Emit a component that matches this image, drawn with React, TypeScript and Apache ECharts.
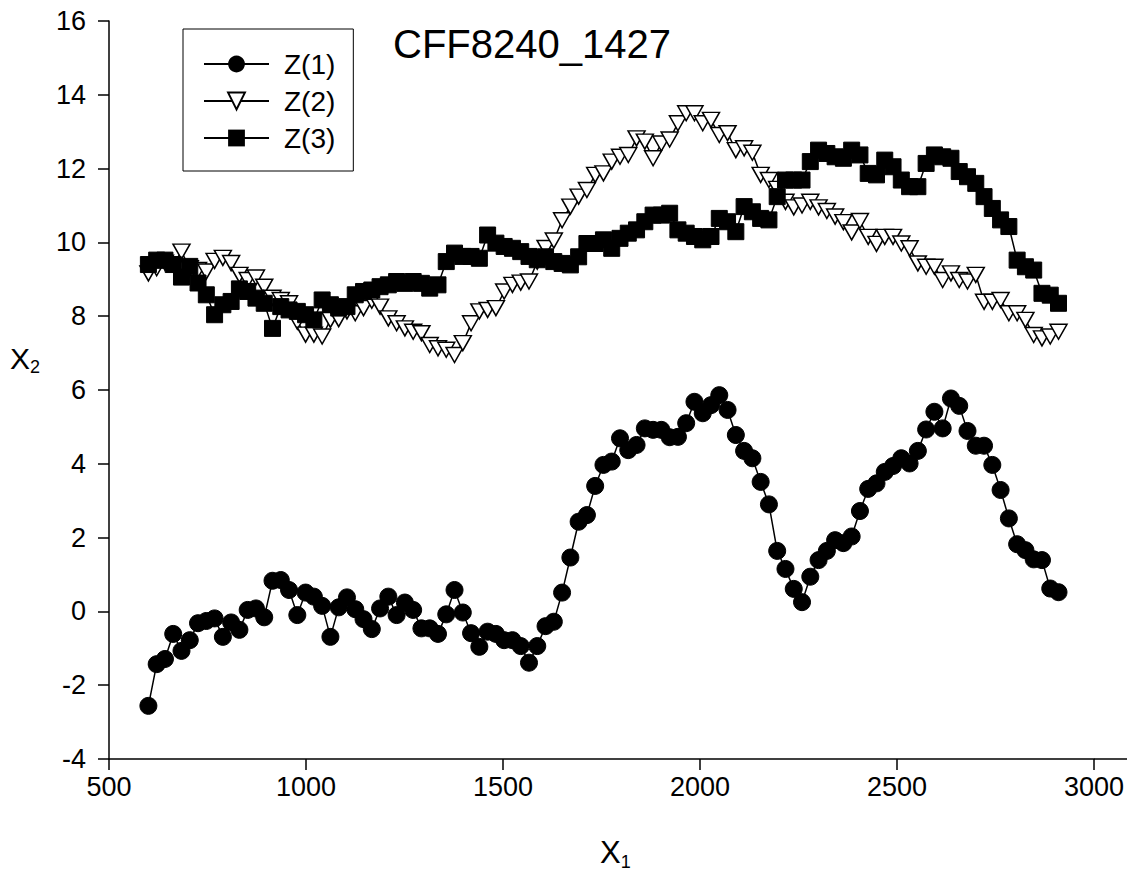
import React, { useEffect, useRef } from "react";
import * as echarts from "echarts";

const X1 = [
  600, 621, 642, 663, 684, 705, 726, 747, 768, 789,
  810, 831, 852, 873, 894, 915, 936, 957, 978, 999,
  1020, 1041, 1062, 1083, 1104, 1125, 1146, 1167, 1188, 1209,
  1230, 1251, 1272, 1293, 1314, 1335, 1356, 1377, 1398, 1419,
  1440, 1461, 1482, 1503, 1524, 1545, 1566, 1587, 1608, 1629,
  1650, 1671, 1692, 1713, 1734, 1755, 1776, 1797, 1818, 1839,
  1860, 1881, 1902, 1923, 1944, 1965, 1986, 2007, 2028, 2049,
  2070, 2091, 2112, 2133, 2154, 2175, 2196, 2217, 2238, 2259,
  2280, 2301, 2322, 2343, 2364, 2385, 2406, 2427, 2448, 2469,
  2490, 2511, 2532, 2553, 2574, 2595, 2616, 2637, 2658, 2679,
  2700, 2721, 2742, 2763, 2784, 2805, 2826, 2847, 2868, 2889,
  2910,
];

const Z1 = [
  -2.56, -1.43, -1.29, -0.61, -1.07, -0.78, -0.32, -0.26, -0.19, -0.69,
  -0.3, -0.5, 0.04, 0.08, -0.16, 0.83, 0.85, 0.58, -0.1, 0.51,
  0.4, 0.15, -0.69, 0.11, 0.38, 0.06, -0.21, -0.48, 0.08, 0.4,
  -0.1, 0.24, 0.04, -0.46, -0.46, -0.61, -0.08, 0.58, -0.03, -0.59,
  -0.96, -0.55, -0.61, -0.78, -0.78, -0.94, -1.39, -0.94, -0.4, -0.28,
  0.51, 1.46, 2.43, 2.61, 3.4, 3.97, 4.06, 4.69, 4.37, 4.51,
  4.96, 4.92, 4.92, 4.72, 4.73, 5.1, 5.68, 5.37, 5.59, 5.86,
  5.46, 4.78, 4.35, 4.15, 3.51, 2.9, 1.64, 1.15, 0.61, 0.25,
  0.94, 1.39, 1.64, 1.93, 1.85, 2.03, 2.72, 3.32, 3.47, 3.78,
  3.94, 4.15, 4.01, 4.35, 4.93, 5.41, 4.96, 5.77, 5.57, 4.89,
  4.49, 4.49, 3.97, 3.29, 2.52, 1.82, 1.66, 1.41, 1.39, 0.62,
  0.52,
];

const Z2 = [
  9.16, 9.3, 9.45, 9.4, 9.75, 9.3, 9.25, 9.21, 9.5, 9.58,
  9.44, 9.12, 8.98, 9.05, 8.8, 8.5, 8.44, 8.35, 7.85, 7.5,
  7.5, 7.45, 7.9, 7.92, 8.13, 8.08, 8.22, 8.42, 8.26, 7.94,
  7.81, 7.67, 7.58, 7.54, 7.22, 7.13, 7.09, 6.95, 7.27, 7.81,
  8.13, 8.17, 8.22, 8.67, 8.85, 8.91, 8.94, 9.48, 9.85, 10.05,
  10.6, 10.97, 11.24, 11.42, 11.83, 11.87, 12.19, 12.32, 12.37, 12.82,
  12.73, 12.28, 12.68, 12.79, 13.23, 13.5, 13.5, 13.23, 13.32, 12.91,
  12.96, 12.5, 12.55, 12.43, 11.83, 11.69, 11.45, 11.1, 10.95, 11.0,
  11.1, 10.95, 10.85, 10.7, 10.55, 10.27, 10.58, 10.15, 9.96, 10.15,
  10.15, 9.97, 9.84, 9.43, 9.34, 9.34, 8.98, 9.16, 8.98, 8.94,
  9.12, 8.39, 8.39, 8.44, 8.08, 8.08, 7.9, 7.49, 7.4, 7.45,
  7.58,
];

const Z3 = [
  9.4, 9.52, 9.52, 9.4, 9.06, 9.35, 8.9, 8.58, 8.04, 8.31,
  8.4, 8.74, 8.67, 8.49, 8.35, 7.67, 8.26, 8.17, 8.13, 8.04,
  7.9, 8.44, 8.31, 8.22, 8.26, 8.58, 8.67, 8.71, 8.8, 8.85,
  8.94, 8.89, 8.94, 8.89, 8.76, 8.85, 9.48, 9.71, 9.62, 9.62,
  9.57, 10.2, 9.98, 9.89, 9.84, 9.75, 9.62, 9.53, 9.61, 9.48,
  9.43, 9.39, 9.61, 9.97, 9.97, 10.07, 9.84, 10.11, 10.25, 10.34,
  10.56, 10.74, 10.74, 10.79, 10.34, 10.25, 10.16, 10.07, 10.16, 10.65,
  10.56, 10.29, 10.97, 10.83, 10.65, 10.61, 11.24, 11.69, 11.69, 11.69,
  12.19, 12.5, 12.41, 12.32, 12.28, 12.5, 12.37, 11.87, 11.83, 12.23,
  12.05, 11.69, 11.51, 11.51, 12.14, 12.37, 12.32, 12.28, 11.92, 11.78,
  11.6, 11.24, 10.92, 10.61, 10.43, 9.52, 9.34, 9.25, 8.62, 8.57,
  8.35,
];

const SERIES_NAMES = ["Z(1)", "Z(2)", "Z(3)"];
const TITLE = "CFF8240_1427";

const FONT = "'Liberation Sans', Arial, Helvetica, sans-serif";

export default function App() {
  const ref = useRef<HTMLDivElement>(null);

  useEffect(() => {
    if (!ref.current) return;
    const chart = echarts.init(ref.current, undefined, { renderer: "svg" });
    const pairs = (ys: number[]) => X1.map((x, i) => [x, ys[i]]);
    const lineStyle = { color: "#000", width: 1.5 };

    chart.setOption({
      animation: false,
      backgroundColor: "#fff",
      textStyle: { fontFamily: FONT, color: "#000" },
      title: {
        text: TITLE,
        left: 527,
        top: 19,
        textAlign: "center",
        textStyle: { fontFamily: FONT, fontSize: 40, fontWeight: "normal", color: "#000" },
      },
      legend: {
        orient: "vertical",
        left: 183,
        top: 29,
        padding: [21, 18, 19, 20],
        itemWidth: 65,
        itemHeight: 21,
        itemGap: 9,
        borderColor: "#000",
        borderWidth: 1,
        data: SERIES_NAMES,
        textStyle: {
          fontFamily: FONT,
          fontSize: 28,
          color: "#000",
          padding: [0, 0, 0, 10],
          lineHeight: 28,
        },
      },
      grid: { left: 109, right: 33, top: 21, bottom: 123, containLabel: false },
      xAxis: {
        type: "value",
        min: 500,
        max: 3000,
        interval: 500,
        splitLine: { show: false },
        axisLine: { onZero: false, lineStyle: { color: "#000", width: 1.5 } },
        axisTick: { show: true, inside: false, length: 11, lineStyle: { color: "#000", width: 1.5 } },
        axisLabel: {
          fontFamily: FONT,
          fontSize: 27,
          color: "#000",
          margin: 14,
          formatter: (v: number) => String(v),
        },
      },
      yAxis: {
        type: "value",
        min: -4,
        max: 16,
        interval: 2,
        splitLine: { show: false },
        axisLine: { show: true, onZero: false, lineStyle: { color: "#000", width: 1.5 } },
        axisTick: { show: true, inside: false, length: 11, lineStyle: { color: "#000", width: 1.5 } },
        axisLabel: {
          fontFamily: FONT,
          fontSize: 27,
          color: "#000",
          margin: 23,
          formatter: (v: number) => String(v),
        },
      },
      graphic: [
        {
          type: "line",
          shape: { x1: 1094, y1: 759, x2: 1127, y2: 759 },
          style: { stroke: "#000", lineWidth: 1.5 },
        },
        {
          type: "text",
          left: 10,
          top: 343,
          style: {
            text: "{a|X}{b|2}",
            rich: {
              a: { fontFamily: FONT, fontSize: 30, fill: "#000" },
              b: { fontFamily: FONT, fontSize: 18, fill: "#000", padding: [18, 0, 0, 0] },
            },
          },
        },
        {
          type: "text",
          left: 600,
          top: 837,
          style: {
            text: "{a|X}{b|1}",
            rich: {
              a: { fontFamily: FONT, fontSize: 31, fill: "#000" },
              b: { fontFamily: FONT, fontSize: 18, fill: "#000", padding: [19, 0, 0, 0] },
            },
          },
        },
      ],
      series: [
        {
          name: SERIES_NAMES[0],
          type: "line",
          data: pairs(Z1),
          symbol: "circle",
          symbolSize: 17,
          showAllSymbol: true,
          lineStyle,
          itemStyle: { color: "#000", borderColor: "#000" },
          z: 3,
        },
        {
          name: SERIES_NAMES[1],
          type: "line",
          data: pairs(Z2),
          symbol: "triangle",
          symbolRotate: 180,
          symbolSize: [17, 15],
          showAllSymbol: true,
          lineStyle,
          itemStyle: { color: "#fff", borderColor: "#000", borderWidth: 1.5 },
          z: 2,
        },
        {
          name: SERIES_NAMES[2],
          type: "line",
          data: pairs(Z3),
          symbol: "rect",
          symbolSize: 16,
          showAllSymbol: true,
          lineStyle,
          itemStyle: { color: "#000", borderColor: "#000" },
          z: 4,
        },
      ],
    });
    return () => chart.dispose();
  }, []);

  return (
    <div
      ref={ref}
      style={{ position: "fixed", left: 0, top: 0, width: 1127, height: 882, background: "#fff" }}
    />
  );
}
